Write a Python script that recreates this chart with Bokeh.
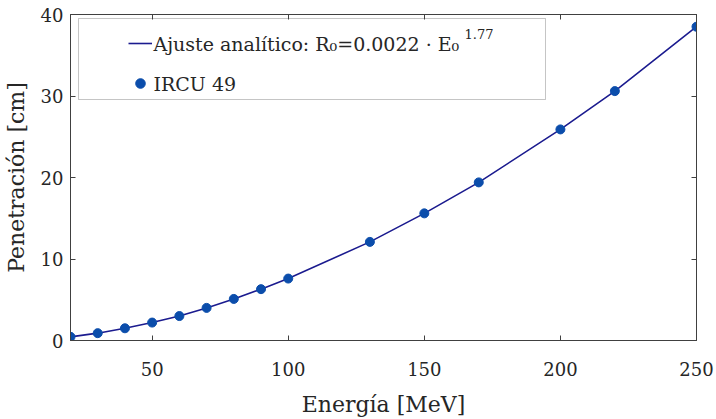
from bokeh.plotting import figure
from bokeh.models import (LinearAxis, FixedTicker, Legend, LegendItem,
                          BoxAnnotation, Label, Range1d)
from bokeh.core.properties import value
from bokeh.embed import file_html
from bokeh.resources import INLINE

# ---- data ----
energia = [20, 30, 40, 50, 60, 70, 80, 90, 100, 130, 150, 170, 200, 220, 250]
penetracion = [0.45, 0.9, 1.5, 2.2, 3.0, 4.0, 5.1, 6.3, 7.6, 12.1, 15.6, 19.4, 25.9, 30.6, 38.5]

ajuste_energia = [20, 30, 40, 50, 60, 70, 80, 90, 100, 130, 150, 170, 200, 220, 250]
ajuste_penetracion = [0.45, 0.9, 1.5, 2.2, 3.0, 4.0, 5.1, 6.3, 7.6, 12.1, 15.6, 19.4, 25.9, 30.6, 38.5]

x_ticks = [50, 100, 150, 200, 250]
y_ticks = [0, 10, 20, 30, 40]

label_ajuste = "Ajuste analítico: R₀=0.0022 · E₀"
label_exponente = "1.77"
label_datos = "IRCU 49"
x_label = "Energía [MeV]"
y_label = "Penetración [cm]"

FONT = "DejaVu Serif"
AX = "#404040"
TXT = "#262626"
LINE_COLOR = "#1b1b8f"
PT_COLOR = "#0b4dab"

p = figure(width=716, height=419, x_range=Range1d(20, 250), y_range=Range1d(0, 40),
           output_backend="svg", toolbar_location=None,
           min_border_left=70, min_border_right=20, min_border_top=14, min_border_bottom=79,
           x_axis_label=x_label, y_axis_label=y_label)

p.xgrid.visible = False
p.ygrid.visible = False
p.outline_line_color = AX
p.outline_line_width = 1
p.background_fill_color = "white"
p.border_fill_color = "white"

def style(ax, ticks, labels=True):
    ax.ticker = FixedTicker(ticks=ticks)
    ax.axis_line_color = AX
    ax.major_tick_line_color = AX
    ax.major_tick_in = 5
    ax.major_tick_out = 0
    ax.minor_tick_line_color = None
    ax.major_label_text_font = FONT
    ax.major_label_text_color = TXT if labels else None
    ax.major_label_text_font_size = "18px" if labels else "1px"
    ax.axis_label_text_font = FONT
    ax.axis_label_text_font_style = "normal"
    ax.axis_label_text_color = TXT
    ax.axis_label_text_font_size = "22px"

style(p.xaxis[0], x_ticks)
style(p.yaxis[0], y_ticks)
p.xaxis[0].major_label_standoff = 21
p.xaxis[0].axis_label_standoff = 13
p.yaxis[0].major_label_standoff = 7
p.yaxis[0].axis_label_standoff = 9

top_ax = LinearAxis()
style(top_ax, x_ticks, labels=False)
top_ax.major_label_standoff = 0
p.add_layout(top_ax, "above")
right_ax = LinearAxis()
style(right_ax, y_ticks, labels=False)
right_ax.major_label_standoff = 0
p.add_layout(right_ax, "right")

r_line = p.line(ajuste_energia, ajuste_penetracion, line_color=LINE_COLOR, line_width=1.6)
r_pts = p.scatter(energia, penetracion, size=9, fill_color=PT_COLOR, line_color=PT_COLOR)

# legend frame (screen units are relative to the plot frame, y upwards)
box = BoxAnnotation(left=8, right=475, top=322, bottom=241,
                    left_units="screen", right_units="screen",
                    top_units="screen", bottom_units="screen",
                    fill_color="white", fill_alpha=1.0,
                    line_color=AX, line_width=1, level="underlay")
p.add_layout(box)

# legend glyph samples come from the renderers; the label texts are drawn as Labels
legend = Legend(items=[LegendItem(label=label_ajuste, renderers=[r_line]),
                       LegendItem(label=label_datos, renderers=[r_pts])],
                location=(58, 245), padding=0, margin=0, spacing=16,
                glyph_width=24, glyph_height=24, label_height=24, label_standoff=2,
                label_text_font_size="10px", label_text_color=None,
                border_line_alpha=0, background_fill_alpha=0)
p.add_layout(legend)


def make_label(**kw):
    try:
        return Label(text_font=value(FONT), **kw)
    except Exception:
        return Label(text_font=FONT, **kw)


for txt, ypos in ((label_ajuste, 297), (label_datos, 257)):
    p.add_layout(make_label(x=83, y=ypos, x_units="screen", y_units="screen", text=txt,
                            text_font_size="19px", text_color=TXT, text_baseline="middle"))

p.add_layout(make_label(x=394, y=307, x_units="screen", y_units="screen",
                        text=label_exponente, text_font_size="13px", text_color=TXT,
                        text_baseline="middle"))

open("out.html", "w").write(file_html(p, INLINE))
